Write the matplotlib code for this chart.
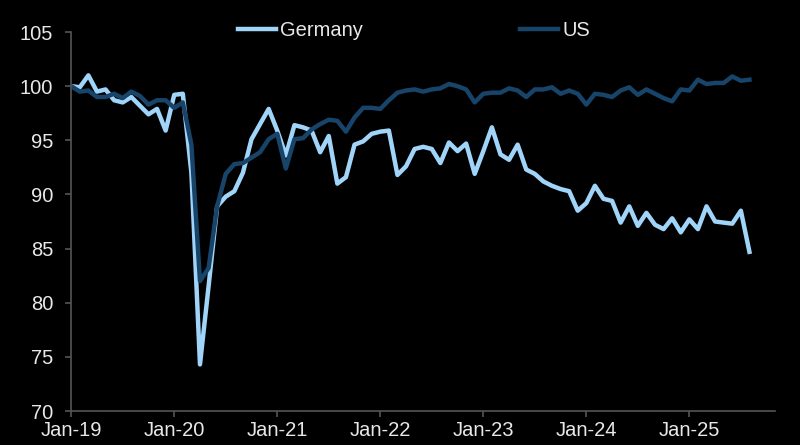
import matplotlib
matplotlib.use("Agg")
import matplotlib.pyplot as plt
import numpy as np

# monthly index levels, Jan-19 .. Aug-25 (Jan-19 = 100)
germany = [100.0, 99.9, 101.0, 99.5, 99.7, 98.7, 98.5, 99.0, 98.2, 97.4, 97.9, 95.9,
           99.2, 99.3, 92.0, 74.3, 81.5, 88.9, 89.8, 90.3, 92.0, 95.1, 96.5, 97.9,
           95.9, 93.6, 96.4, 96.2, 95.9, 93.9, 95.4, 91.0, 91.6, 94.6, 94.9, 95.6,
           95.8, 95.9, 91.8, 92.6, 94.2, 94.4, 94.2, 92.9, 94.8, 94.0, 94.7, 91.9,
           94.0, 96.2, 93.7, 93.2, 94.6, 92.3, 91.9, 91.2, 90.8, 90.5, 90.3, 88.5,
           89.2, 90.8, 89.6, 89.4, 87.4, 88.9, 87.1, 88.3, 87.2, 86.8, 87.8, 86.5,
           87.7, 86.8, 88.9, 87.5, 87.4, 87.3, 88.5, 84.7]
us = [100.0, 99.5, 99.6, 99.0, 99.0, 99.3, 98.9, 99.5, 99.1, 98.3, 98.7, 98.7,
      98.0, 98.5, 94.6, 82.0, 83.2, 88.9, 91.9, 92.8, 92.9, 93.4, 93.9, 95.1,
      95.6, 92.4, 95.1, 95.2, 96.0, 96.5, 96.9, 96.8, 95.8, 97.1, 98.0, 98.0,
      97.9, 98.7, 99.4, 99.6, 99.7, 99.5, 99.7, 99.8, 100.2, 100.0, 99.7, 98.5,
      99.3, 99.4, 99.4, 99.8, 99.6, 99.0, 99.7, 99.7, 99.9, 99.3, 99.6, 99.3,
      98.3, 99.3, 99.2, 99.0, 99.6, 99.9, 99.2, 99.7, 99.3, 98.9, 98.6, 99.7,
      99.6, 100.6, 100.2, 100.3, 100.3, 100.9, 100.5, 100.6]
tick_labels = ["Jan-19", "Jan-20", "Jan-21", "Jan-22", "Jan-23", "Jan-24", "Jan-25"]
y_ticks = [70, 75, 80, 85, 90, 95, 100, 105]

plt.rcParams['font.family'] = ['Liberation Sans', 'DejaVu Sans']
txt = '#e8e8e8'
axc = '#555555'

months = np.arange(len(germany))

fig = plt.figure(figsize=(8, 4.45), dpi=100, facecolor='black')
ax = fig.add_axes([0.089, 0.0764, 0.88, 0.8516], facecolor='black')

ax.plot(months, germany, color='#a0d4f8', lw=3.2, label='Germany')
ax.plot(months, us, color='#174468', lw=3.2, label='US')

ax.set_xlim(0, 82)
ax.set_ylim(70, 105)
ax.set_yticks(y_ticks)
ax.set_xticks(np.arange(len(tick_labels)) * 12)
ax.set_xticklabels(tick_labels)

for s in ['top', 'right']:
    ax.spines[s].set_visible(False)
for s in ['left', 'bottom']:
    ax.spines[s].set_color(axc)
    ax.spines[s].set_linewidth(1.2)
ax.tick_params(colors=axc, labelcolor=txt, labelsize=14.5, length=4, width=1.2)
ax.tick_params(axis='y', pad=9)
ax.tick_params(axis='x', pad=3)

leg = ax.legend(loc='center', bbox_to_anchor=(0.4865, 1.003), ncol=2, frameon=False,
                fontsize=14.5, handlelength=1.9, handletextpad=0.2, columnspacing=7.8,
                labelcolor=txt)

fig.savefig('out.png', dpi=100, facecolor='black')
